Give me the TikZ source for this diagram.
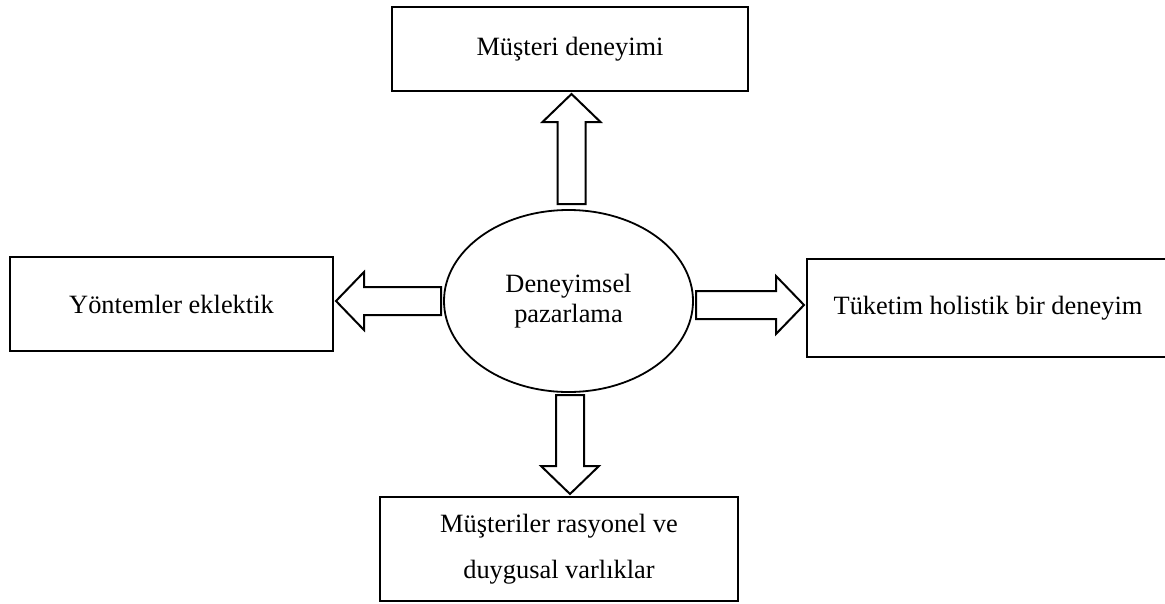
\documentclass[tikz,border=0pt]{standalone}
\usepackage{fontspec}
\setmainfont{Liberation Serif}
\usetikzlibrary{shapes.geometric,calc}

\tikzset{
  box/.style={draw, line width=2.4pt, rectangle, inner sep=0pt, outer sep=0pt,
              align=center, font=\fontsize{26.4}{30}\selectfont},
  hub/.style={draw, line width=1.8pt, ellipse, inner sep=0pt, outer sep=0pt,
              minimum width=249pt, minimum height=182pt,
              align=center, font=\fontsize{26.4}{30}\selectfont},
  blockarrow/.style={draw, line width=2pt, fill=white, line join=miter}
}

% hollow block arrow between two named points
\newcommand\blockarrow[2]{%
  \coordinate (ba-s) at ($(#1)!3pt!(#2)$);
  \coordinate (ba-h) at ($(#2)!31pt!(#1)$);
  \coordinate (ba-t) at ($(#2)!3pt!(#1)$);
  \draw[blockarrow]
    ($(ba-s)!14pt!90:(ba-t)$) -- ($(ba-h)!14pt!90:(ba-t)$) --
    ($(ba-h)!29pt!90:(ba-t)$) -- (ba-t) --
    ($(ba-h)!29pt!-90:(ba-t)$) -- ($(ba-h)!14pt!-90:(ba-t)$) --
    ($(ba-s)!14pt!-90:(ba-t)$) -- cycle;
}

\begin{document}
\begin{tikzpicture}[x=1pt, y=-1pt]
  \useasboundingbox (0,0) rectangle (1165,603);
  \clip (0,0) rectangle (1165,603);

  \node[hub] (ell) at (568.5,301) {Deneyimsel\\pazarlama};

  \node[box, minimum width=356pt, minimum height=84pt] (top) at (570,49) {Müşteri deneyimi};
  \node[box, minimum width=323pt, minimum height=94pt] (left) at (171.5,304) {Yöntemler eklektik};
  \node[box, minimum width=362pt, minimum height=98pt] (right) at (988,308) {Tüketim holistik bir deneyim};
  \node[box, minimum width=358pt, minimum height=104pt,
        font=\fontsize{26.4}{46}\selectfont] (bot) at (559,549)
        {Müşteriler rasyonel ve\\duygusal varlıklar};

  \coordinate (upStart) at ($(ell.north)+(3,-3)$);
  \coordinate (upEnd) at (upStart |- top.south);
  \coordinate (dnStart) at ($(ell.south)+(1.5,0)$);
  \coordinate (dnEnd) at (dnStart |- bot.north);
  \coordinate (lfStart) at (ell.west);
  \coordinate (lfEnd) at (lfStart -| left.east);
  \coordinate (rtStart) at ($(ell.east)+(0,4)$);
  \coordinate (rtEnd) at (rtStart -| right.west);

  \blockarrow{upStart}{upEnd}
  \blockarrow{dnStart}{dnEnd}
  \blockarrow{lfStart}{lfEnd}
  \blockarrow{rtStart}{rtEnd}
\end{tikzpicture}
\end{document}
